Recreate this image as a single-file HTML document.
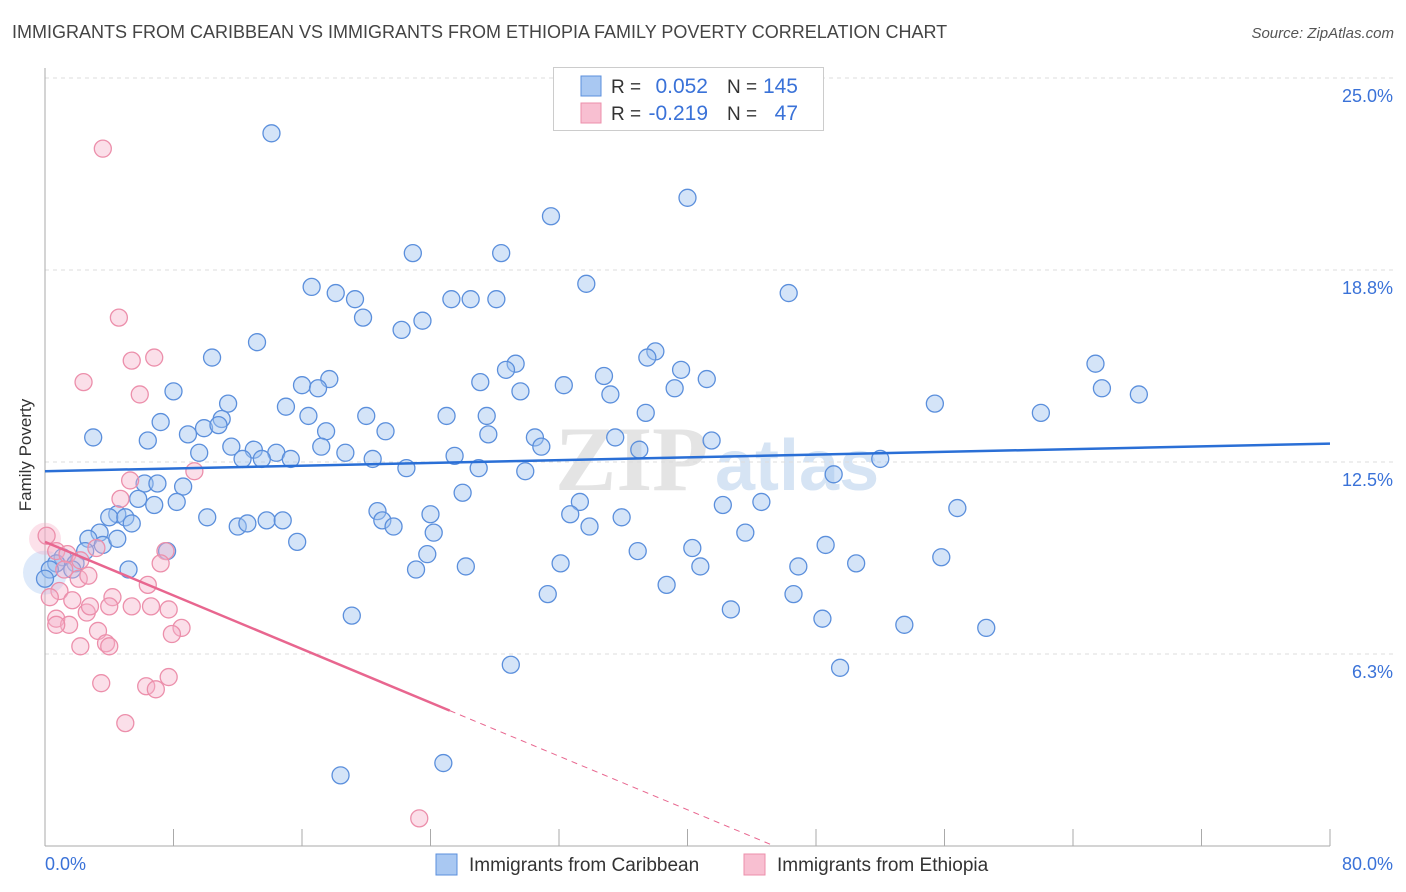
<!DOCTYPE html>
<html><head><meta charset="utf-8"><style>
body{margin:0;background:#fff;font-family:"Liberation Sans",sans-serif;}
#wrap{position:relative;width:1406px;height:892px;overflow:hidden}
.t{position:absolute;white-space:nowrap}
</style></head><body>
<div id="wrap">
<div class="t" style="left:12px;top:22px;font-size:18px;color:#444">IMMIGRANTS FROM CARIBBEAN VS IMMIGRANTS FROM ETHIOPIA FAMILY POVERTY CORRELATION CHART</div>
<div class="t" style="right:12px;top:25px;font-size:15px;color:#555;font-style:italic">Source: ZipAtlas.com</div>
<div class="t" style="left:-30px;top:445px;font-size:17px;color:#333;transform:rotate(-90deg);transform-origin:center">Family Poverty</div>
<svg id="svg" width="1406" height="892" style="position:absolute;left:0;top:0"></svg>
</div>
<script>
const xTickVals=[0,8,16,24,32,40,48,56,64,72,80];
const yTickVals=[6.25,12.5,18.75,25];
const yTickLabels=["6.3%","12.5%","18.8%","25.0%"];
const xEndLabels=["0.0%","80.0%"];
const blueX=[14.1,40.0,31.5,22.9,28.4,33.7,46.3,16.6,18.1,19.3,25.3,26.5,28.1,19.8,23.5,22.2,13.2,38.0,37.5,10.4,29.3,65.4,28.7,39.6,34.8,41.2,27.1,16.0,17.7,17.0,65.8,8.0,32.3,29.6,35.2,39.2,68.1,55.4,11.4,15.0,62.0,7.2,11.0,20.0,25.0,27.5,37.4,16.4,3.0,6.4,8.9,9.9,10.8,17.5,21.2,30.5,27.6,35.5,41.5,9.6,11.6,13.0,14.4,17.2,30.9,12.3,13.5,15.3,18.7,20.4,25.5,37.0,52.0,22.5,27.0,29.9,49.1,6.2,7.0,8.6,5.8,8.2,6.8,4.5,4.0,5.0,3.4,5.4,10.1,12.0,12.6,13.8,14.8,20.7,21.0,21.7,26.0,24.0,33.3,32.7,33.9,35.9,42.2,44.6,56.8,43.6,2.7,3.6,4.5,15.7,24.2,23.8,36.9,40.3,48.6,7.6,2.5,55.8,1.1,1.9,1.7,0.7,5.2,23.1,26.2,32.1,40.8,46.9,50.5,38.7,31.3,46.6,42.7,19.1,48.4,53.5,58.6,29.0,49.5,18.4,24.8,0.3,0.0];
const blueY=[23.2,21.1,20.5,19.3,19.3,18.3,18.0,18.2,18.0,17.8,17.8,17.8,17.8,17.2,17.1,16.8,16.4,16.1,15.9,15.9,15.7,15.7,15.5,15.5,15.3,15.2,15.1,15.0,15.2,14.9,14.9,14.8,15.0,14.8,14.7,14.9,14.7,14.4,14.4,14.3,14.1,13.8,13.9,14.0,14.0,14.0,14.1,14.0,13.3,13.2,13.4,13.6,13.7,13.5,13.5,13.3,13.4,13.3,13.2,12.8,13.0,12.9,12.8,13.0,13.0,12.6,12.6,12.6,12.8,12.6,12.7,12.9,12.6,12.3,12.3,12.2,12.1,11.8,11.8,11.7,11.3,11.2,11.1,10.8,10.7,10.7,10.2,10.5,10.7,10.4,10.5,10.6,10.6,10.9,10.6,10.4,11.5,10.8,11.2,10.8,10.4,10.7,11.1,11.2,11.0,10.2,10.0,9.8,10.0,9.9,10.2,9.5,9.6,9.7,9.8,9.6,9.6,9.4,9.4,9.2,9.0,9.2,9.0,9.0,9.1,9.2,9.1,9.1,9.2,8.5,8.2,8.2,7.7,7.5,7.4,7.2,7.1,5.9,5.8,2.3,2.7,9.0,8.7];
const pinkX=[3.6,4.6,6.8,5.4,2.4,5.9,9.3,5.3,4.7,0.1,0.7,1.4,3.2,7.5,7.2,2.2,1.2,2.1,0.9,6.4,4.2,2.7,0.3,1.7,5.4,6.6,7.7,4.0,2.6,2.8,0.7,1.5,8.5,3.3,7.9,3.8,2.2,4.0,0.7,3.5,7.7,6.3,6.9,5.0,23.3];
const pinkY=[22.7,17.2,15.9,15.8,15.1,14.7,12.2,11.9,11.3,10.1,9.6,9.5,9.7,9.6,9.2,9.3,9.0,8.7,8.3,8.5,8.1,8.8,8.1,8.0,7.8,7.8,7.7,7.8,7.6,7.8,7.4,7.2,7.1,7.0,6.9,6.6,6.5,6.5,7.2,5.3,5.5,5.2,5.1,4.0,0.9];
const blueTrend=[12.2,13.1];   // y at x=0 and x=80
const pinkTrend=[9.9,-0.218];  // intercept, slope
const pinkSolidEnd=25.2;
const X=v=>45+v/80*1285, Y=v=>846-v/25*768;
const svg=document.getElementById('svg');const NS='http://www.w3.org/2000/svg';
function mk(tag,attrs,name,parent){const e=document.createElementNS(NS,tag);for(const k in attrs)e.setAttribute(k,attrs[k]);


(parent||svg).appendChild(e);return e;}
// watermark
const wm=mk('text',{x:555,y:490,'font-size':92,'font-family':'Liberation Serif,serif',fill:'#e4e4e4','font-weight':'bold'},'watermark');wm.textContent='ZIP';
const wm2=mk('text',{x:715,y:490,'font-size':72,'font-family':'Liberation Sans,sans-serif',fill:'#d6e4f4','font-weight':'bold'},'watermark-atlas');wm2.textContent='atlas';
yTickVals.forEach((v,i)=>{mk('line',{x1:45,x2:1393,y1:Y(v),y2:Y(v),stroke:'#ddd','stroke-dasharray':'4,4'},'y-gridline');
const t=mk('text',{x:1393,y:Y(v)+24,'text-anchor':'end','font-size':18,fill:'#3a72d8'},'y-tick-label');t.textContent=yTickLabels[i];});
mk('line',{x1:45,x2:45,y1:68,y2:846,stroke:'#aaa'},'y-axis');
mk('line',{x1:45,x2:1330,y1:846,y2:846,stroke:'#aaa'},'x-axis');
xTickVals.forEach(v=>mk('line',{x1:X(v),x2:X(v),y1:829,y2:846,stroke:'#aaa'},'x-tick'));
let t=mk('text',{x:45,y:870,'font-size':18,fill:'#3a72d8'},'x-tick-label');t.textContent=xEndLabels[0];
t=mk('text',{x:1393,y:870,'text-anchor':'end','font-size':18,fill:'#3a72d8'},'x-tick-label');t.textContent=xEndLabels[1];
mk('circle',{cx:X(0),cy:Y(8.9),r:22,fill:'rgba(160,195,240,0.35)'},'blue-cluster-blob');
mk('circle',{cx:X(0),cy:Y(10.0),r:16,fill:'rgba(245,170,195,0.35)'},'pink-cluster-blob');
blueX.forEach((x,i)=>mk('circle',{cx:X(x),cy:Y(blueY[i]),r:8.5,fill:'rgba(160,195,240,0.45)',stroke:'#5b8fdc','stroke-width':1.3},'caribbean-point'));
pinkX.forEach((x,i)=>mk('circle',{cx:X(x),cy:Y(pinkY[i]),r:8.5,fill:'rgba(245,175,200,0.4)',stroke:'#ec8fab','stroke-width':1.3},'ethiopia-point'));
mk('line',{x1:X(0),y1:Y(blueTrend[0]),x2:X(80),y2:Y(blueTrend[1]),stroke:'#2a6fd6','stroke-width':2.5},'caribbean-trend-line');
const pz=-pinkTrend[0]/pinkTrend[1];
mk('line',{x1:X(0),y1:Y(pinkTrend[0]),x2:X(pinkSolidEnd),y2:Y(pinkTrend[0]+pinkTrend[1]*pinkSolidEnd),stroke:'#e8668f','stroke-width':2.5},'ethiopia-trend-line');
mk('line',{x1:X(pinkSolidEnd),y1:Y(pinkTrend[0]+pinkTrend[1]*pinkSolidEnd),x2:X(pz),y2:Y(0),stroke:'#e8668f','stroke-width':1,'stroke-dasharray':'6,5'},'ethiopia-trend-extension');
// top legend
mk('rect',{x:553.5,y:67.5,width:270,height:63,fill:'#fff',stroke:'#ccc'},'legend-box');
[['#a9c8f2','#5b8fdc','0.052','145',86],['#f8bfd1','#ec8fab','-0.219','47',113]].forEach(r=>{
mk('rect',{x:581,y:r[4]-10,width:20,height:20,fill:r[0],stroke:r[1]},'legend-swatch');
let a=mk('text',{x:611,y:r[4]+7,'font-size':19,fill:'#333'},'legend-r-label');a.textContent='R =';
a=mk('text',{x:708,y:r[4]+7,'font-size':21,fill:'#3a72d8','text-anchor':'end'},'legend-r-value');a.textContent=r[2];
a=mk('text',{x:727,y:r[4]+7,'font-size':19,fill:'#333'},'legend-n-label');a.textContent='N =';
a=mk('text',{x:798,y:r[4]+7,'font-size':21,fill:'#3a72d8','text-anchor':'end'},'legend-n-value');a.textContent=r[3];});
// bottom legend
[[436,'#a9c8f2','#5b8fdc','Immigrants from Caribbean'],[744,'#f8bfd1','#ec8fab','Immigrants from Ethiopia']].forEach(r=>{
mk('rect',{x:r[0],y:854,width:21,height:21,fill:r[1],stroke:r[2]},'bottom-legend-swatch');
const a=mk('text',{x:r[0]+33,y:871,'font-size':19,fill:'#333'},'bottom-legend-label');a.textContent=r[3];});
</script>
</body></html>
